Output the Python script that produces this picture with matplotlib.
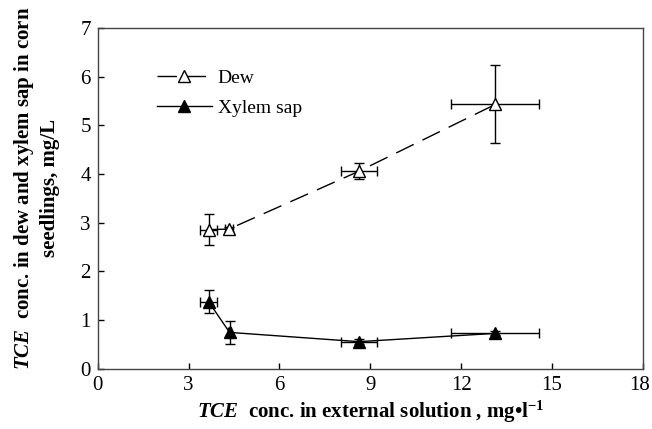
import matplotlib
matplotlib.use("Agg")
import matplotlib.pyplot as plt
import matplotlib.transforms as mtransforms
import numpy as np

plt.rcParams['font.family'] = ['Liberation Serif', 'DejaVu Serif']
plt.rcParams['mathtext.fontset'] = 'custom'
plt.rcParams['mathtext.rm'] = 'Liberation Serif:bold'
plt.rcParams['mathtext.bf'] = 'Liberation Serif:bold'
plt.rcParams['mathtext.it'] = 'Liberation Serif:italic:bold'

dew_x = [3.66, 4.33, 8.63, 13.13]
dew_y = [2.86, 2.87, 4.06, 5.43]
dew_xerr = [0.29, 0.12, 0.6, 1.45]
dew_yerr = [0.32, 0.05, 0.17, 0.8]

xyl_x = [3.66, 4.35, 8.62, 13.12]
xyl_y = [1.38, 0.75, 0.56, 0.73]
xyl_xerr = [0.29, 0.04, 0.6, 1.46]
xyl_yerr = [0.24, 0.24, 0.05, 0.04]

xticks = [0, 3, 6, 9, 12, 15, 18]
yticks = [0, 1, 2, 3, 4, 5, 6, 7]

fig = plt.figure(figsize=(6.52, 4.29), dpi=100)
ax = fig.add_axes([0.150, 0.140, 0.836, 0.795])

ax.errorbar(dew_x, dew_y, xerr=dew_xerr, yerr=dew_yerr, color='black',
            marker='^', markerfacecolor='white', markeredgecolor='black',
            markersize=8, linewidth=1.0, dashes=(14, 7), elinewidth=1.0,
            capsize=3.5, capthick=1.0, label='Dew')
ax.errorbar(xyl_x, xyl_y, xerr=xyl_xerr, yerr=xyl_yerr, color='black',
            marker='^', markerfacecolor='black', markeredgecolor='black',
            markersize=8, linewidth=1.0, elinewidth=1.0,
            capsize=3.5, capthick=1.0, label='Xylem sap')

ax.set_xlim(0, 18)
ax.set_ylim(0, 7)
ax.set_xticks(xticks)
ax.set_yticks(yticks)
ax.tick_params(direction='in', length=4, width=1, labelsize=15, pad=5)
for s in ax.spines.values():
    s.set_linewidth(1.0)
    s.set_color('#444444')

# nudge the last x tick label slightly left so it stays inside the figure
last = ax.get_xticklabels()[-1]
last.set_transform(last.get_transform() + mtransforms.ScaledTranslation(-3 / 100, 0, fig.dpi_scale_trans))

handles, labels = ax.get_legend_handles_labels()
handles = [h[0] if hasattr(h, '__getitem__') else h for h in handles]
leg = ax.legend(handles, labels, loc='upper left', bbox_to_anchor=(0.077, 0.93),
                frameon=False, fontsize=14, handlelength=2.8, handletextpad=0.3,
                labelspacing=0.65)

ax.set_xlabel(r'$\mathit{TCE}$  conc. in external solution , mg•l$^{-1}$',
              fontsize=15, fontweight='bold', labelpad=3)
fig.text(0.055, 0.562,
         r'$\mathit{TCE}$  conc. in dew and xylem sap in corn' + '\n' + 'seedlings, mg/L',
         rotation=90, ha='center', va='center', multialignment='center',
         fontsize=15, fontweight='bold', linespacing=1.3)

fig.savefig('out.png', dpi=100)
